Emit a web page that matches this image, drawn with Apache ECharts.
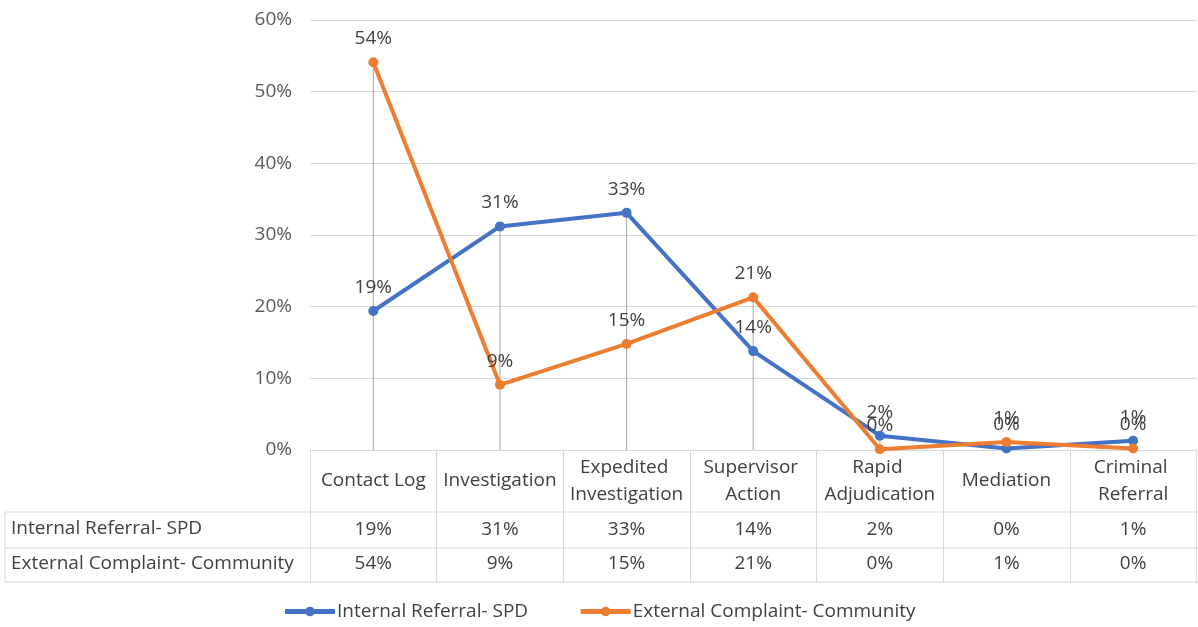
<!DOCTYPE html>
<html>
<head>
<meta charset="utf-8">
<script src="https://cdn.jsdelivr.net/npm/echarts@6/dist/echarts.min.js"></script>
<style>
  html, body { margin: 0; padding: 0; background: #fff; }
  #chart { width: 1198px; height: 627px; }
</style>
</head>
<body>
<div id="chart"></div>
<script>
// categories and values
const categories = ['Contact Log', 'Investigation', 'Expedited Investigation', 'Supervisor Action',
    'Rapid Adjudication', 'Mediation', 'Criminal Referral'];
const internalName = 'Internal Referral- SPD';
const externalName = 'External Complaint- Community';
const internalVals = [0.194, 0.312, 0.331, 0.138, 0.020, 0.002, 0.013];
const externalVals = [0.541, 0.091, 0.148, 0.213, 0.001, 0.011, 0.002];
const yTicks = [0, 0.1, 0.2, 0.3, 0.4, 0.5, 0.6];

const FONT = 'Open Sans';
const FS = 19;
const TXT = '#404040';
const LINE = '#d9d9d9';

const pct = v => Math.round(v * 100) + '%';
// drop lines go up to the higher point of each category
const dropVals = internalVals.map((v, i) => Math.max(v, externalVals[i]));

const chart = echarts.init(document.getElementById('chart'));

// the data table rows are extra category axes sharing the plot grid
const rowAxis = (vals, offset) => ({
    type: 'category',
    position: 'bottom',
    offset: offset,
    data: vals.map(pct),
    axisLine: { show: false },
    axisTick: { show: false },
    axisLabel: { color: TXT, fontFamily: FONT, fontSize: FS, margin: 0, verticalAlign: 'middle' }
});

chart.setOption({
    animation: false,
    textStyle: { fontFamily: FONT },
    grid: { left: 310, right: 0, top: 20, bottom: 177, containLabel: false },
    xAxis: [{
        type: 'category',
        data: categories,
        axisLine: { lineStyle: { color: LINE, width: 1 } },
        axisTick: { show: true, length: 132, lineStyle: { color: LINE } },
        axisLabel: {
            color: TXT, fontFamily: FONT, fontSize: FS, margin: 31,
            verticalAlign: 'middle', width: 124, overflow: 'break', lineHeight: 27, interval: 0
        }
    },
        rowAxis(internalVals, 80),
        rowAxis(externalVals, 114)
    ],
    yAxis: {
        type: 'value',
        min: yTicks[0],
        max: yTicks[yTicks.length - 1],
        interval: 0.1,
        axisLine: { show: false },
        axisTick: { show: false },
        splitLine: { lineStyle: { color: LINE } },
        axisLabel: { color: '#595959', fontFamily: FONT, fontSize: FS, margin: 18, formatter: pct }
    },
    legend: {
        bottom: 1,
        left: 'center',
        itemWidth: 50,
        itemHeight: 12,
        itemGap: 50,
        lineStyle: { width: 5 },
        data: [internalName, externalName],
        textStyle: { color: TXT, fontFamily: FONT, fontSize: FS, padding: [0, 0, 0, -3] }
    },
    graphic: [
        { type: 'line', shape: { x1: 5, y1: 512, x2: 1198, y2: 512 }, style: { stroke: LINE } },
        { type: 'line', shape: { x1: 5, y1: 548, x2: 1198, y2: 548 }, style: { stroke: LINE } },
        { type: 'line', shape: { x1: 5, y1: 582, x2: 1198, y2: 582 }, style: { stroke: LINE } },
        { type: 'line', shape: { x1: 5, y1: 512, x2: 5, y2: 582 }, style: { stroke: LINE } },
        { type: 'text', left: 11, top: 519, style: { text: internalName, fill: TXT, font: FS + 'px ' + FONT } },
        { type: 'text', left: 11, top: 554, style: { text: externalName, fill: TXT, font: FS + 'px ' + FONT } }
    ],
    series: [{
        name: 'drop',
        type: 'bar',
        data: dropVals,
        barWidth: 1,
        itemStyle: { color: '#a6a6a6' },
        silent: true,
        z: 1
    }, {
        name: internalName,
        type: 'line',
        data: internalVals,
        symbol: 'circle',
        symbolSize: 10,
        lineStyle: { width: 4, color: '#4472C4' },
        itemStyle: { color: '#4472C4' },
        label: { show: true, position: 'top', distance: 9, color: TXT, fontSize: FS, fontFamily: FONT, formatter: p => pct(p.value) },
        z: 3
    }, {
        name: externalName,
        type: 'line',
        data: externalVals,
        symbol: 'circle',
        symbolSize: 10,
        lineStyle: { width: 4, color: '#ED7D31' },
        itemStyle: { color: '#ED7D31' },
        label: { show: true, position: 'top', distance: 9, color: TXT, fontSize: FS, fontFamily: FONT, formatter: p => pct(p.value) },
        z: 4
    }]
});
</script>
</body>
</html>
